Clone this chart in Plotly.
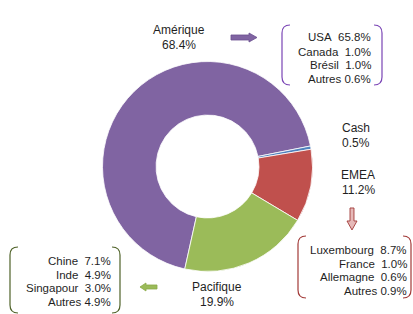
import plotly.graph_objects as go

W, H = 413, 314

# ---- data ----
regions = ["Amérique", "Cash", "EMEA", "Pacifique"]
shares = [68.4, 0.5, 11.2, 19.9]
colors = ["#8064A2", "#4F81BD", "#C0504D", "#9BBB59"]

amer_names = ["USA", "Canada", "Brésil", "Autres"]
amer_vals = [65.8, 1.0, 1.0, 0.6]
emea_names = ["Luxembourg", "France", "Allemagne", "Autres"]
emea_vals = [8.7, 1.0, 0.6, 0.9]
pac_names = ["Chine", "Inde", "Singapour", "Autres"]
pac_vals = [7.1, 4.9, 3.0, 4.9]

FONT = "Liberation Sans"
TXT = "#1f1f1f"


def px(x):
    return x / W


def py(y):
    return 1 - y / H


def path(points, close=False):
    s = ""
    for i, p in enumerate(points):
        if p[0] == "Q":
            _, cx, cy, x, y = p
            s += f" Q {px(cx):.5f},{py(cy):.5f} {px(x):.5f},{py(y):.5f}"
        else:
            x, y = p
            s += (" M " if i == 0 else " L ") + f"{px(x):.5f},{py(y):.5f}"
    if close:
        s += " Z"
    return s.strip()


fig = go.Figure(
    go.Pie(
        labels=regions,
        values=shares,
        marker=dict(colors=colors, line=dict(color="white", width=0.8)),
        hole=0.49,
        sort=False,
        direction="clockwise",
        rotation=192.5,
        textinfo="none",
        hoverinfo="skip",
        domain=dict(x=[px(102.5), px(312.5)], y=[py(271.5), py(61.5)]),
    )
)

annotations = []


def txt(x, y, t, anchor="center", size=12, color=TXT, bold=False):
    annotations.append(
        dict(
            x=px(x), y=py(y), xref="paper", yref="paper", text=f"<b>{t}</b>" if bold else t,
            showarrow=False, xanchor=anchor, yanchor="middle",
            font=dict(family=FONT, size=size, color=color),
        )
    )


# main labels
txt(179, 30, regions[0])
txt(179, 45, f"{shares[0]:.1f}%")
txt(356, 128, regions[1])
txt(356, 142.5, f"{shares[1]:.1f}%")
txt(358, 175, regions[2])
txt(358, 190, f"{shares[2]:.1f}%")
txt(217, 286.5, regions[3])
txt(217, 301.5, f"{shares[3]:.1f}%")

NB = "\u00a0"


def box_lines(names, vals, xr, ys):
    for n, v, y in zip(names, vals, ys):
        sep = NB if n == "Autres" else NB + NB
        txt(xr, y, f"{n}{sep}{v:.1f}%", anchor="right", size=11.5)


box_lines(amer_names, amer_vals, 373, [37, 51.5, 65, 79])
box_lines(emea_names, emea_vals, 408.5, [250, 263.5, 277, 291])
box_lines(pac_names, pac_vals, 113, [261, 274.5, 288, 301.5])

# partially visible title at the top
txt(249, -9, "géographique", anchor="left", size=17, color="#0E6B6B", bold=True)

shapes = []


def bracket_box(x0, y0, x1, y1, color, r=8):
    left = [(x0 + r, y0), ("Q", x0, y0, x0, y0 + r), (x0, y1 - r), ("Q", x0, y1, x0 + r, y1)]
    right = [(x1 - r, y0), ("Q", x1, y0, x1, y0 + r), (x1, y1 - r), ("Q", x1, y1, x1 - r, y1)]
    for pts in (left, right):
        shapes.append(dict(type="path", xref="paper", yref="paper", path=path(pts),
                           line=dict(color=color, width=1.2)))


bracket_box(282, 25, 382, 85, "#7A45B5")
bracket_box(298, 236, 411, 298, "#A23A38")
bracket_box(10, 247, 120, 313, "#4F6228")

# arrows
shapes.append(dict(type="path", xref="paper", yref="paper",
                   path=path([(231, 35), (249, 35), (249, 33), (257, 37.5), (249, 42), (249, 40), (231, 40)], True),
                   fillcolor="#8064A2", line=dict(color="#6A4F8F", width=0.8)))
shapes.append(dict(type="path", xref="paper", yref="paper",
                   path=path([(350, 208), (354, 208), (354, 221), (357, 221), (352, 230), (347, 221), (350, 221)], True),
                   fillcolor="#E6B9B8", line=dict(color="#A23A38", width=0.9)))
shapes.append(dict(type="path", xref="paper", yref="paper",
                   path=path([(157, 285), (146, 285), (146, 283), (140, 287), (146, 291), (146, 289), (157, 289)], True),
                   fillcolor="#9BBB59", line=dict(color="#8AAA48", width=0.8)))

fig.update_layout(
    width=W, height=H,
    margin=dict(l=0, r=0, t=0, b=0),
    paper_bgcolor="white", plot_bgcolor="white",
    showlegend=False,
    annotations=annotations,
    shapes=shapes,
)

fig.write_html(
    "out.html",
    config={"displayModeBar": False},
    post_script="document.body.style.margin='0px';document.body.style.overflow='hidden';",
)
